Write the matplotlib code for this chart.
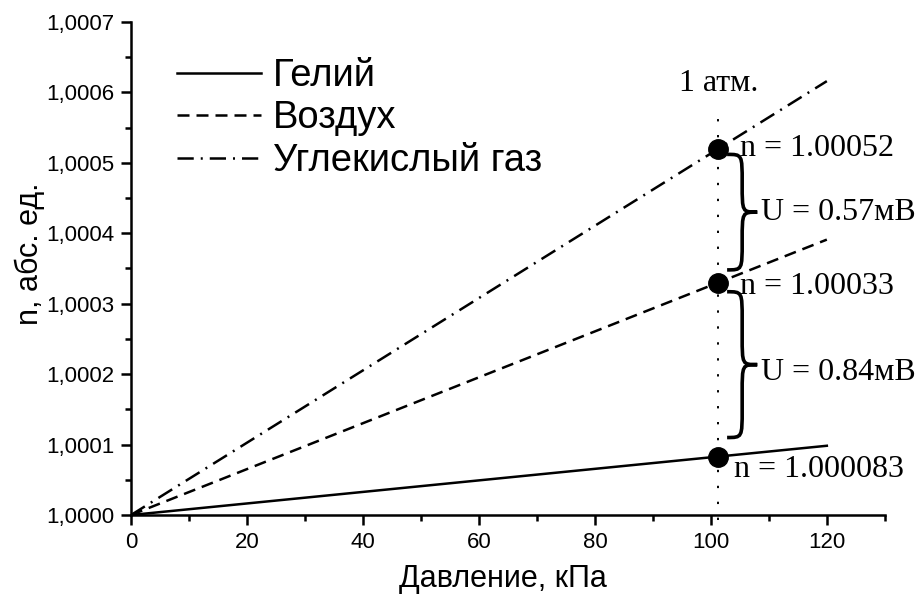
import numpy as np
import matplotlib
matplotlib.use('Agg')
import matplotlib.pyplot as plt
from matplotlib.path import Path
from matplotlib.patches import PathPatch

plt.rcParams['font.family'] = ['Liberation Sans', 'DejaVu Sans']

# Pressure range and refractive index at the ends of each line
pressure = [0, 120]
n_helium = [1.0, 1.0000983]
n_air = [1.0, 1.000391]
n_co2 = [1.0, 1.000616]

# Values at normal pressure (1 atm = 101.3 kPa)
p_atm = 101.3
n_atm = [1.000083, 1.00033, 1.00052]
n_atm_labels = ['n = 1.000083', 'n = 1.00033', 'n = 1.00052']
u_labels = ['U = 0.84мВ', 'U = 0.57мВ']

x_ticks = [0, 20, 40, 60, 80, 100, 120]
y_ticks = [1.0000, 1.0001, 1.0002, 1.0003, 1.0004, 1.0005, 1.0006, 1.0007]
y_tick_labels = ['1,0000', '1,0001', '1,0002', '1,0003', '1,0004', '1,0005', '1,0006', '1,0007']

fig = plt.figure(figsize=(9.17, 5.94), dpi=100)
ax = fig.add_axes([0.1429, 0.133, 0.822, 0.830])

lw = 1.8
ax.plot(pressure, n_helium, color='black', lw=lw, label='Гелий')
ax.plot(pressure, n_air, color='black', lw=lw, linestyle=(0, (4.8, 2.8)), label='Воздух')
ax.plot(pressure, n_co2, color='black', lw=lw, linestyle=(0, (6.5, 2.8, 0.8, 2.8)),
        label='Углекислый газ')

# 1 atm marker line
ax.plot([p_atm, p_atm], [0.999993, 1.000577], color='black', lw=1.4,
        linestyle=(0, (1.2, 7.0)), clip_on=False)
ax.text(p_atm, 1.000592, '1 атм.', family='Liberation Serif', fontsize=23,
        ha='center', va='bottom')

ax.plot([p_atm] * 3, n_atm, 'o', color='black', markersize=14, clip_on=False, zorder=5)

serif = dict(family='Liberation Serif', fontsize=23, va='center', ha='left')
ax.text(104.0, 1.000064, n_atm_labels[0], **serif)
ax.text(105.0, 1.000325, n_atm_labels[1], **serif)
ax.text(105.0, 1.000521, n_atm_labels[2], **serif)


def brace(ax, x0, y0, y1, w, h):
    # right-pointing curly brace between y0 and y1
    xm = x0 + w / 2
    ym = (y0 + y1) / 2
    verts = [(x0, y1), (xm, y1), (xm, y1), (xm, y1 - h),
             (xm, ym + h),
             (xm, ym), (xm, ym), (x0 + w, ym),
             (xm, ym), (xm, ym), (xm, ym - h),
             (xm, y0 + h),
             (xm, y0), (xm, y0), (x0, y0)]
    codes = [Path.MOVETO, Path.CURVE4, Path.CURVE4, Path.CURVE4,
             Path.LINETO,
             Path.CURVE4, Path.CURVE4, Path.CURVE4,
             Path.CURVE4, Path.CURVE4, Path.CURVE4,
             Path.LINETO,
             Path.CURVE4, Path.CURVE4, Path.CURVE4]
    ax.add_patch(PathPatch(Path(verts, codes), fill=False, lw=2.6,
                           edgecolor='black', clip_on=False, capstyle='butt'))


brace(ax, 102.8, 1.000348, 1.000512, 5.2, 0.00004)
brace(ax, 102.8, 1.000110, 1.000317, 5.2, 0.00004)
ax.text(108.6, 1.000430, u_labels[1], **serif)
ax.text(108.6, 1.000202, u_labels[0], **serif)

ax.set_xlim(0, 130)
ax.set_ylim(1.0, 1.0007)
ax.set_xticks(x_ticks)
ax.set_xticks(np.arange(10, 131, 20), minor=True)
ax.set_yticks(y_ticks)
ax.set_yticklabels(y_tick_labels)
ax.set_yticks(np.arange(1.00005, 1.0007, 0.0001), minor=True)

for side in ['top', 'right']:
    ax.spines[side].set_visible(False)
for side in ['left', 'bottom']:
    ax.spines[side].set_linewidth(1.8)
ax.tick_params(which='major', direction='out', length=7, width=1.8, labelsize=16, pad=5)
ax.tick_params(which='minor', direction='out', length=4, width=1.8)

ax.set_xlabel('Давление, кПа', fontsize=22)
ax.set_ylabel('n, абс. ед.', fontsize=22)
ax.xaxis.set_label_coords(0.493, -0.099)
ax.yaxis.set_label_coords(-0.114, 0.53)

ax.legend(loc='upper left', bbox_to_anchor=(0.061, 0.927), frameon=False, fontsize=27.5,
          handlelength=2.2, handletextpad=0.3, labelspacing=0.17, borderaxespad=0,
          borderpad=0)

fig.savefig('out.png', dpi=100)
